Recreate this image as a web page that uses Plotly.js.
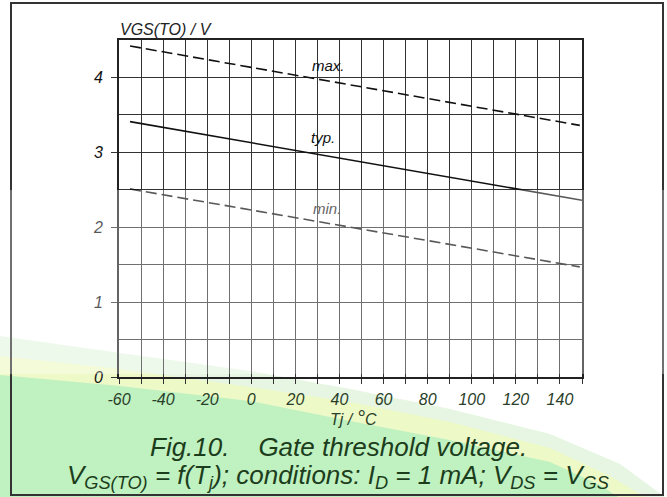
<!DOCTYPE html>
<html>
<head>
<meta charset="utf-8">
<script src="https://cdn.plot.ly/plotly-3.0.1.min.js"></script>
<style>html,body{margin:0;padding:0;background:#fff;}#chart{width:667px;height:497px;}</style>
</head>
<body>
<div id="chart"></div>
<script>
// ---- data ----
const tempMax = [-55, 149];
const vgsMax  = [4.42, 3.36];
const tempTyp = [-55, 150];
const vgsTyp  = [3.41, 2.36];
const tempMin = [-55, 149];
const vgsMin  = [2.51, 1.47];
const xTickVals = [-60, -40, -20, 0, 20, 40, 60, 80, 100, 120, 140];
const xTickText = ["-60", "-40", "-20", "0", "20", "40", "60", "80", "100", "120", "140"];
const yTickVals = [0, 1, 2, 3, 4];
const yTickText = ["0", "1", "2", "3", "4"];
const curveLabels = ["max.", "typ.", "min."];
const labelTemps = [35, 32.7, 34.3];
const labelVolts = [4.16, 3.2, 2.25];

// ---- layout geometry ----
const W = 667, H = 497;
const M = {l: 119, r: 85, t: 40, b: 120};
const PW = W - M.l - M.r, PH = H - M.t - M.b;
const px = x => (x - M.l) / PW;
const py = y => (H - M.b - y) / PH;
function band(pts) {
  let d = "M " + px(pts[0][0]) + "," + py(pts[0][1]);
  for (let i = 1; i < pts.length; i++) d += " L " + px(pts[i][0]) + "," + py(pts[i][1]);
  d += " L " + px(0) + "," + py(H) + " Z";
  return d;
}
const halo   = [[0,336],[120,353],[250,371],[350,389],[450,409],[550,434],[620,464],[665,497]];
const yellow = [[0,356],[120,369],[250,387],[350,402],[450,422],[550,448],[610,476],[645,497]];
const green  = [[0,375],[120,386],[250,401],[350,421],[450,440],[550,462],[600,485],[618,497]];

const FONT = "Liberation Sans, Arial, sans-serif";

const lineStyle = {color: "#111", width: 1.6};
const traces = [
  {x: tempMax, y: vgsMax, mode: "lines", line: Object.assign({}, lineStyle, {dash: "11px,5px"}), hoverinfo: "skip"},
  {x: tempTyp, y: vgsTyp, mode: "lines", line: lineStyle, hoverinfo: "skip"},
  {x: tempMin, y: vgsMin, mode: "lines", line: Object.assign({}, lineStyle, {dash: "11px,5px"}), hoverinfo: "skip"}
];

const annotations = curveLabels.map((t, i) => ({
  x: labelTemps[i], y: labelVolts[i], xref: "x", yref: "y", text: t, showarrow: false,
  xanchor: "center", yanchor: "middle",
  font: {family: FONT, size: 15, style: "italic", color: i === 2 ? "#666" : "#111"}
}));
annotations.push(
  {x: 0, y: 1, xref: "paper", yref: "paper", xanchor: "left", yanchor: "bottom", showarrow: false,
   text: "VGS(TO) / V", xshift: -1, font: {family: FONT, size: 16, style: "italic", color: "#222"}},
  {x: px(353), y: py(431), xref: "paper", yref: "paper", xanchor: "center", yanchor: "bottom", showarrow: false,
   text: "Tj / <span style=\"font-size:21px\">°</span>C", font: {family: FONT, size: 16, style: "italic", color: "#2a3f2a"}},
  {x: px(338), y: py(464), xref: "paper", yref: "paper", xanchor: "center", yanchor: "bottom", showarrow: false,
   text: "Fig.10.\u00A0\u00A0\u00A0\u00A0Gate threshold voltage.", font: {family: FONT, size: 26, style: "italic", color: "#1c3d1c"}},
  {x: px(338), y: py(458), xref: "paper", yref: "paper", xanchor: "center", yanchor: "top", showarrow: false,
   text: "V<sub>GS(TO)</sub> = f(T<sub>j</sub>); conditions: I<sub>D</sub> = 1 mA; V<sub>DS</sub> = V<sub>GS</sub>",
   font: {family: FONT, size: 26, style: "italic", color: "#1c3d1c"}}
);

const shapes = [
  {type: "path", xref: "paper", yref: "paper", layer: "below", path: band(halo), fillcolor: "#e6f6e2", line: {width: 0}},
  {type: "path", xref: "paper", yref: "paper", layer: "below", path: band(yellow), fillcolor: "#eef9c8", line: {width: 0}},
  {type: "path", xref: "paper", yref: "paper", layer: "below", path: band(green), fillcolor: "#c0f1c0", line: {width: 0}},
  {type: "rect", xref: "paper", yref: "paper", layer: "above", x0: px(11), x1: px(663), y0: py(3), y1: py(495),
   fillcolor: "rgba(0,0,0,0)", line: {color: "#333", width: 2}},
  {type: "rect", xref: "paper", yref: "paper", layer: "above", x0: px(0), x1: px(W), y0: py(190), y1: py(374),
   fillcolor: "rgba(255,255,255,0.3)", line: {width: 0}}
];

const layout = {
  width: W, height: H, margin: M, showlegend: false,
  paper_bgcolor: "#fff", plot_bgcolor: "#fff",
  font: {family: FONT},
  xaxis: {
    range: [-60, 150], tickmode: "array", tickvals: xTickVals, ticktext: xTickText, ticks: "outside", ticklen: 5, tickcolor: "#333",
    showgrid: true, gridcolor: "#333", gridwidth: 1, zeroline: false,
    showline: true, mirror: true, linecolor: "#222", linewidth: 2,
    minor: {dtick: 10, tick0: -60, showgrid: true, gridcolor: "#333", gridwidth: 1, ticks: "outside", ticklen: 5, tickcolor: "#333"},
    tickfont: {family: FONT, size: 16, style: "italic", color: "#2a3f2a"}, ticklabelstandoff: 2
  },
  yaxis: {
    range: [0, 4.5], tickmode: "array", tickvals: yTickVals, ticktext: yTickText, ticks: "outside", ticklen: 6, tickcolor: "#333",
    showgrid: true, gridcolor: "#333", gridwidth: 1, zeroline: false,
    showline: true, mirror: true, linecolor: "#222", linewidth: 2,
    minor: {dtick: 0.5, tick0: 0, showgrid: true, gridcolor: "#333", gridwidth: 1},
    tickfont: {family: FONT, size: 16, style: "italic", color: "#111"}, ticklabelstandoff: 5
  },
  annotations: annotations,
  shapes: shapes
};

Plotly.newPlot("chart", traces, layout, {staticPlot: true, displayModeBar: false});
</script>
</body>
</html>
